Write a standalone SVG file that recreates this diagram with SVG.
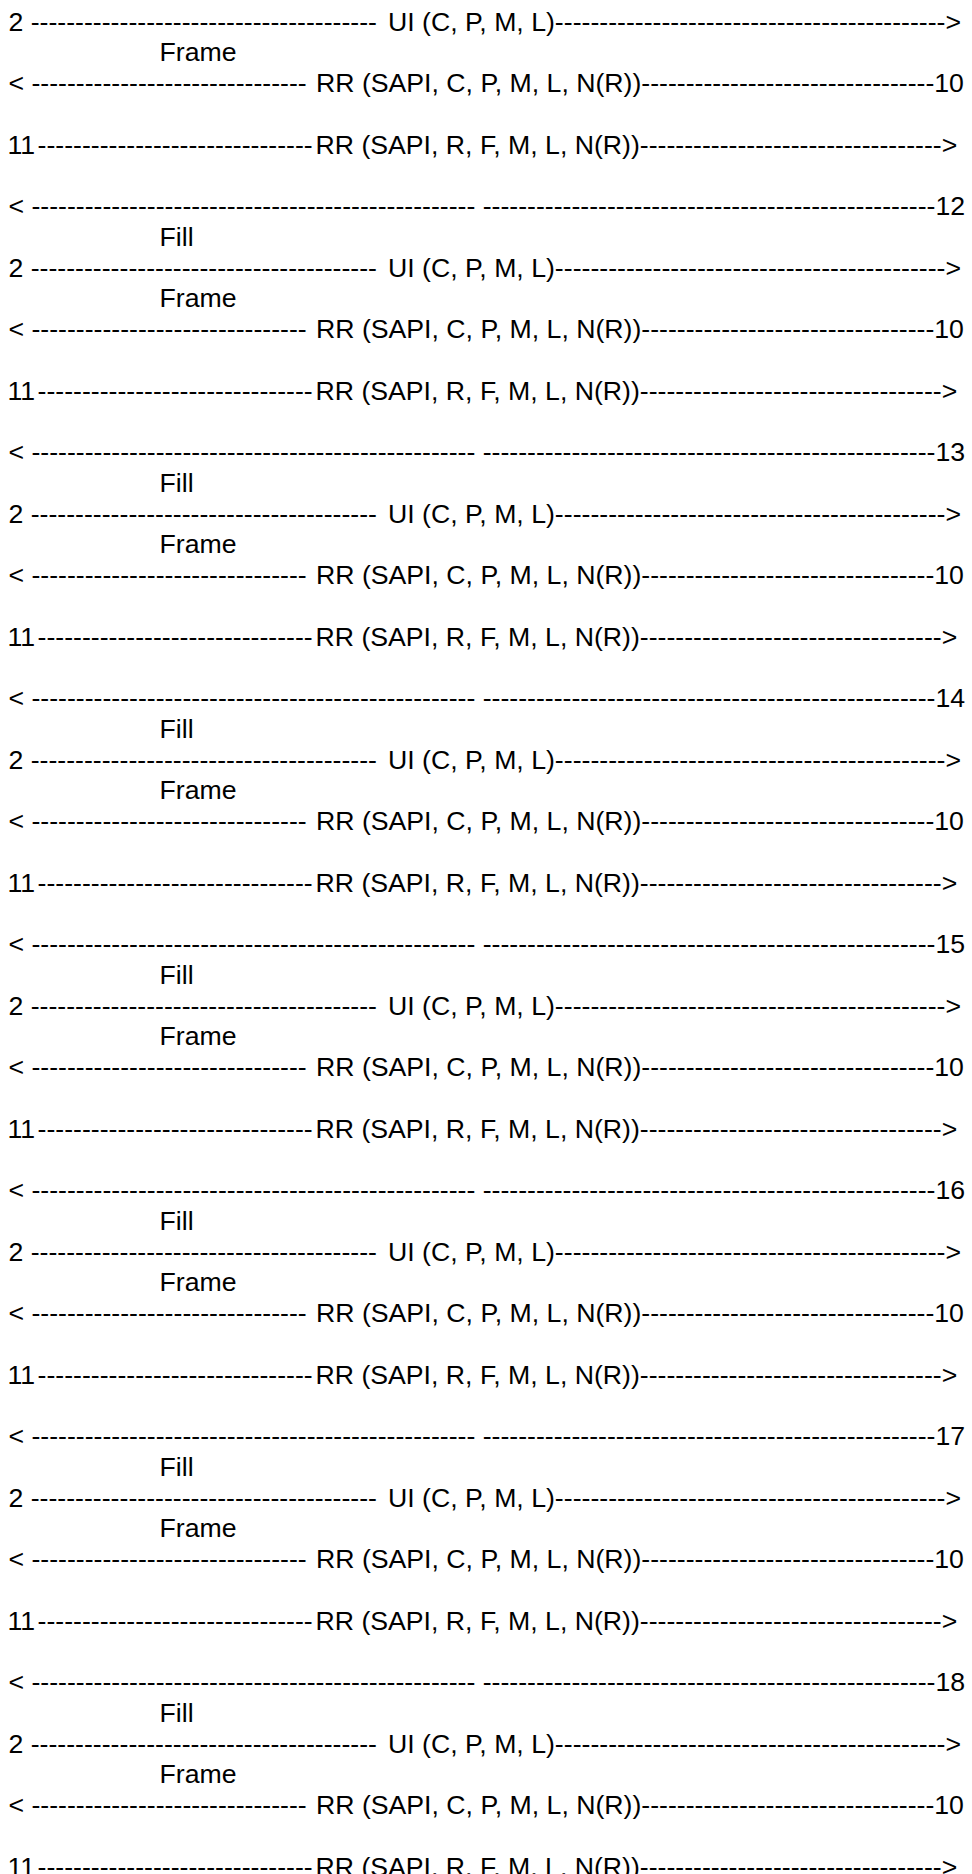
<svg xmlns="http://www.w3.org/2000/svg" width="972" height="1874" viewBox="0 0 972 1874">
<style>
text { font-family: "Liberation Sans", Arial, sans-serif; font-size: 26.67px; fill: #000000; }
</style>
<rect x="0" y="0" width="972" height="1874" fill="#ffffff"/>
<g id="connectors">
<g id="block-1" transform="translate(0,0)">
<text x="8.5" y="30.5">2 ---------------------------------------<tspan x="388">UI (C, P, M, L)--------------------------------------------&gt;</tspan></text>
<text x="159.5" y="61.25">Frame</text>
<text x="8.5" y="92">&lt; -------------------------------<tspan x="316">RR (SAPI, C, P, M, L, N(R))---------------------------------10</tspan></text>
<text x="7.5" y="153.5">11<tspan x="37.5">-------------------------------</tspan><tspan x="315.5">RR (SAPI, R, F, M, L, N(R))----------------------------------&gt;</tspan></text>
<text x="8.5" y="215">&lt; -------------------------------------------------- ---------------------------------------------------12</text>
<text x="159.5" y="245.75">Fill</text>
</g>
<g id="block-2" transform="translate(0,246)">
<text x="8.5" y="30.5">2 ---------------------------------------<tspan x="388">UI (C, P, M, L)--------------------------------------------&gt;</tspan></text>
<text x="159.5" y="61.25">Frame</text>
<text x="8.5" y="92">&lt; -------------------------------<tspan x="316">RR (SAPI, C, P, M, L, N(R))---------------------------------10</tspan></text>
<text x="7.5" y="153.5">11<tspan x="37.5">-------------------------------</tspan><tspan x="315.5">RR (SAPI, R, F, M, L, N(R))----------------------------------&gt;</tspan></text>
<text x="8.5" y="215">&lt; -------------------------------------------------- ---------------------------------------------------13</text>
<text x="159.5" y="245.75">Fill</text>
</g>
<g id="block-3" transform="translate(0,492)">
<text x="8.5" y="30.5">2 ---------------------------------------<tspan x="388">UI (C, P, M, L)--------------------------------------------&gt;</tspan></text>
<text x="159.5" y="61.25">Frame</text>
<text x="8.5" y="92">&lt; -------------------------------<tspan x="316">RR (SAPI, C, P, M, L, N(R))---------------------------------10</tspan></text>
<text x="7.5" y="153.5">11<tspan x="37.5">-------------------------------</tspan><tspan x="315.5">RR (SAPI, R, F, M, L, N(R))----------------------------------&gt;</tspan></text>
<text x="8.5" y="215">&lt; -------------------------------------------------- ---------------------------------------------------14</text>
<text x="159.5" y="245.75">Fill</text>
</g>
<g id="block-4" transform="translate(0,738)">
<text x="8.5" y="30.5">2 ---------------------------------------<tspan x="388">UI (C, P, M, L)--------------------------------------------&gt;</tspan></text>
<text x="159.5" y="61.25">Frame</text>
<text x="8.5" y="92">&lt; -------------------------------<tspan x="316">RR (SAPI, C, P, M, L, N(R))---------------------------------10</tspan></text>
<text x="7.5" y="153.5">11<tspan x="37.5">-------------------------------</tspan><tspan x="315.5">RR (SAPI, R, F, M, L, N(R))----------------------------------&gt;</tspan></text>
<text x="8.5" y="215">&lt; -------------------------------------------------- ---------------------------------------------------15</text>
<text x="159.5" y="245.75">Fill</text>
</g>
<g id="block-5" transform="translate(0,984)">
<text x="8.5" y="30.5">2 ---------------------------------------<tspan x="388">UI (C, P, M, L)--------------------------------------------&gt;</tspan></text>
<text x="159.5" y="61.25">Frame</text>
<text x="8.5" y="92">&lt; -------------------------------<tspan x="316">RR (SAPI, C, P, M, L, N(R))---------------------------------10</tspan></text>
<text x="7.5" y="153.5">11<tspan x="37.5">-------------------------------</tspan><tspan x="315.5">RR (SAPI, R, F, M, L, N(R))----------------------------------&gt;</tspan></text>
<text x="8.5" y="215">&lt; -------------------------------------------------- ---------------------------------------------------16</text>
<text x="159.5" y="245.75">Fill</text>
</g>
<g id="block-6" transform="translate(0,1230)">
<text x="8.5" y="30.5">2 ---------------------------------------<tspan x="388">UI (C, P, M, L)--------------------------------------------&gt;</tspan></text>
<text x="159.5" y="61.25">Frame</text>
<text x="8.5" y="92">&lt; -------------------------------<tspan x="316">RR (SAPI, C, P, M, L, N(R))---------------------------------10</tspan></text>
<text x="7.5" y="153.5">11<tspan x="37.5">-------------------------------</tspan><tspan x="315.5">RR (SAPI, R, F, M, L, N(R))----------------------------------&gt;</tspan></text>
<text x="8.5" y="215">&lt; -------------------------------------------------- ---------------------------------------------------17</text>
<text x="159.5" y="245.75">Fill</text>
</g>
<g id="block-7" transform="translate(0,1476)">
<text x="8.5" y="30.5">2 ---------------------------------------<tspan x="388">UI (C, P, M, L)--------------------------------------------&gt;</tspan></text>
<text x="159.5" y="61.25">Frame</text>
<text x="8.5" y="92">&lt; -------------------------------<tspan x="316">RR (SAPI, C, P, M, L, N(R))---------------------------------10</tspan></text>
<text x="7.5" y="153.5">11<tspan x="37.5">-------------------------------</tspan><tspan x="315.5">RR (SAPI, R, F, M, L, N(R))----------------------------------&gt;</tspan></text>
<text x="8.5" y="215">&lt; -------------------------------------------------- ---------------------------------------------------18</text>
<text x="159.5" y="245.75">Fill</text>
</g>
<g id="block-8" transform="translate(0,1722)">
<text x="8.5" y="30.5">2 ---------------------------------------<tspan x="388">UI (C, P, M, L)--------------------------------------------&gt;</tspan></text>
<text x="159.5" y="61.25">Frame</text>
<text x="8.5" y="92">&lt; -------------------------------<tspan x="316">RR (SAPI, C, P, M, L, N(R))---------------------------------10</tspan></text>
<text x="7.5" y="153.5">11<tspan x="37.5">-------------------------------</tspan><tspan x="315.5">RR (SAPI, R, F, M, L, N(R))----------------------------------&gt;</tspan></text>
</g>
</g>
</svg>
